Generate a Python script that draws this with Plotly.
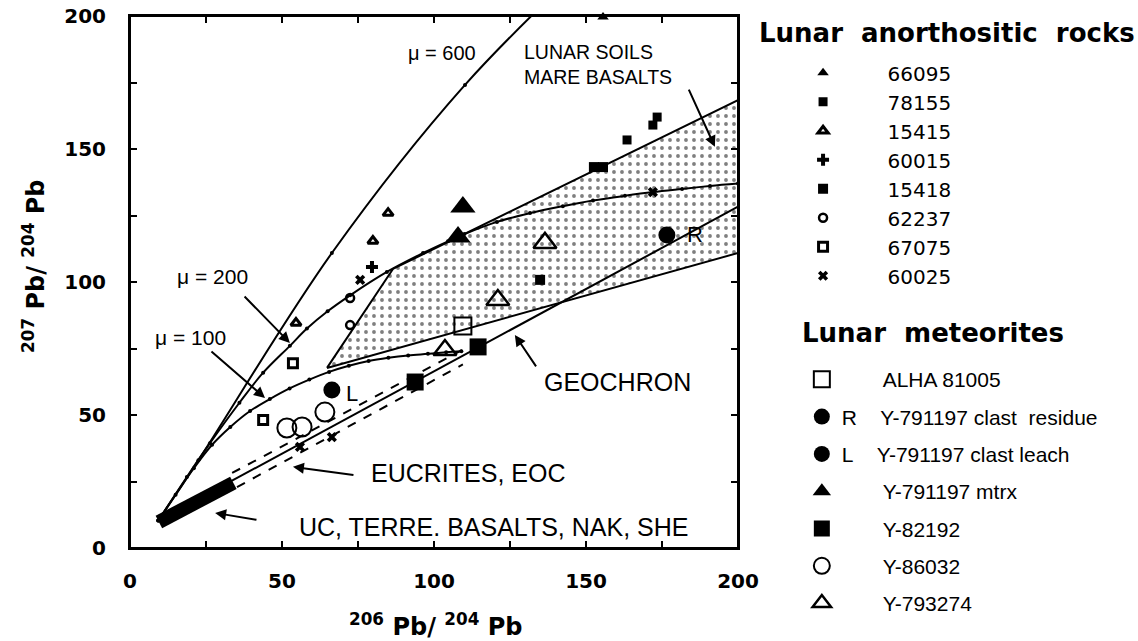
import plotly.graph_objects as go

# ---------------- data ----------------
# growth curves (206Pb/204Pb, 207Pb/204Pb)
mu600_x = [9.3, 22.5, 66.4, 110.2, 152.0]
mu600_y = [10.3, 33.0, 110.9, 174.1, 222.0]

mu200_x = [9.3, 18.7, 26.3, 36.0, 43.8, 52.6, 58.2, 65.0, 72.4, 84.5, 96.4, 104.6, 110.0,
           120.7, 131.6, 142.4, 152.3, 162.8, 172.0, 181.6, 190.8, 200.0]
mu200_y = [10.3, 26.7, 39.4, 54.6, 65.9, 76.0, 82.5, 89.0, 95.0, 103.8, 110.9, 115.3, 118.0,
           122.6, 125.9, 128.5, 130.6, 132.4, 133.8, 135.0, 136.1, 137.0]

mu100_x = [9.3, 15, 21, 27, 33, 39.5, 46, 52.5, 59, 65.5, 72, 78.5, 85, 91.5, 98, 104, 109]
mu100_y = [10.3, 20, 30, 38.8, 45.5, 51.5, 56, 60, 63.3, 66.2, 68.5, 70.3, 71.5, 72.4, 73, 73.6, 74]

geochron_x = [9.3, 200.0]
geochron_y = [10.3, 128.3]

eoc_upper_x = [33.6, 109.2]
eoc_upper_y = [28.2, 74.4]
eoc_lower_x = [35.2, 109.5]
eoc_lower_y = [22.9, 69.0]

terr_x = [9.5, 34.0]
terr_y = [9.8, 24.5]

soils_x = [64.8, 86.5, 200.0, 200.0, 64.8]
soils_y = [67.7, 104.9, 168.4, 110.9, 67.7]

# Lunar anorthositic rocks
r66095_x, r66095_y = [155.6], [199.6]
r78155_x, r78155_y = [173.4, 172.0, 163.5], [162.0, 159.0, 153.4]
r15415_x, r15415_y = [84.9, 79.9, 54.6], [125.9, 115.4, 84.6]
r60015_x, r60015_y = [79.6], [105.6]
r15418_x, r15418_y = [152.6, 155.6, 134.9], [143.2, 143.2, 100.8]
r62237_x, r62237_y = [72.4, 72.4], [94.0, 83.8]
r67075_x, r67075_y = [53.6, 43.8], [69.5, 48.1]
r60025_x, r60025_y = [55.9, 66.4, 75.7, 172.0], [38.0, 41.7, 100.8, 133.8]

# Lunar meteorites
alha_x, alha_y = [109.5], [83.5]
res_x, res_y = [176.6], [117.7]
leach_x, leach_y = [66.4], [59.4]
mtrx_x, mtrx_y = [109.5, 107.9], [128.2, 116.9]
y82192_x, y82192_y = [93.8, 114.5], [62.4, 75.6]
y86032_x, y86032_y = [51.6, 56.6, 64.1], [45.1, 45.5, 51.1]
y793274_x, y793274_y = [136.5, 121.0, 103.6], [114.7, 93.2, 74.4]

tick_vals = [0, 25, 50, 75, 100, 125, 150, 175, 200]
tick_text = ["0", "", "50", "", "100", "", "150", "", "200"]

# ---------------- figure ----------------
FONT = "Liberation Sans, Arial, Helvetica, sans-serif"
WIDE = "DejaVu Sans, Verdana, sans-serif"
NB = "\u00a0"
fig = go.Figure()

def line(x, y, width=2, dash="solid", dots=False, shape="linear"):
    fig.add_trace(go.Scatter(
        x=x, y=y, mode="lines+markers" if dots else "lines",
        line=dict(color="black", width=width, dash=dash, shape=shape, smoothing=1.0),
        marker=dict(size=4, color="black"),
        showlegend=False, hoverinfo="skip"))

# shaded field: lunar soils / mare basalts
fig.add_trace(go.Scatter(
    x=soils_x, y=soils_y, mode="lines", fill="toself",
    fillcolor="white",
    fillpattern=dict(shape=".", fgcolor="black", bgcolor="white", size=8, solidity=0.18),
    line=dict(color="black", width=2), showlegend=False, hoverinfo="skip"))

line(mu600_x, mu600_y, dots=True, shape="spline")
line(mu200_x, mu200_y, dots=True, shape="spline")
line(mu100_x, mu100_y, dots=True, shape="spline")
line(geochron_x, geochron_y)
line(eoc_upper_x, eoc_upper_y, dash="dash")
line(eoc_lower_x, eoc_lower_y, dash="dash")
line(terr_x, terr_y, width=14)

def pts(x, y, name, symbol, size, lw=0, legend="legend", clip=True):
    fig.add_trace(go.Scatter(
        x=x, y=y, mode="markers", name=name, legend=legend,
        legendgroup=name, cliponaxis=clip, hoverinfo="skip",
        marker=dict(symbol=symbol, size=size, color="black",
                    line=dict(color="black", width=lw))))

pad1 = NB * 7
pts(r66095_x, r66095_y, pad1 + "66095", "triangle-up", 10, clip=False)
pts(r78155_x, r78155_y, pad1 + "78155", "square", 9)
pts(r15415_x, r15415_y, pad1 + "15415", "triangle-up-open", 9, lw=3)
pts(r60015_x, r60015_y, pad1 + "60015", "cross", 10)
pts(r15418_x, r15418_y, pad1 + "15418", "square", 10)
pts(r62237_x, r62237_y, pad1 + "62237", "circle-open", 8, lw=2.5)
pts(r67075_x, r67075_y, pad1 + "67075", "square-open", 9, lw=3)
pts(r60025_x, r60025_y, pad1 + "60025", "x", 9)

pad2 = NB * 7
pts(alha_x, alha_y, pad2 + "ALHA 81005", "square-open", 17, lw=2, legend="legend2")
pts(res_x, res_y, "R" + NB * 4 + "Y-791197 clast" + NB * 2 + "residue", "circle", 17, legend="legend2")
pts(leach_x, leach_y, "L" + NB * 4 + "Y-791197 clast" + NB + "leach", "circle", 17, legend="legend2")
pts(mtrx_x, mtrx_y, pad2 + "Y-791197 mtrx", "triangle-up", 22, legend="legend2")
pts(y82192_x, y82192_y, pad2 + "Y-82192", "square", 17, legend="legend2")
pts(y86032_x, y86032_y, pad2 + "Y-86032", "circle-open", 19, lw=2, legend="legend2")
pts(y793274_x, y793274_y, pad2 + "Y-793274", "triangle-up-open", 20, lw=2.5, legend="legend2")

# ---------------- annotations ----------------
def label(x, y, text, size, xanchor="center", align="center", family=FONT, weight="normal",
          ref="data", angle=0):
    kw = dict(xref="paper", yref="paper") if ref == "paper" else {}
    fig.add_annotation(x=x, y=y, text=text, showarrow=False, xanchor=xanchor, yanchor="middle",
                       align=align, textangle=angle,
                       font=dict(family=family, size=size, color="black", weight=weight), **kw)

def arrow(tail, head):
    fig.add_annotation(x=head[0], y=head[1], ax=tail[0], ay=tail[1], axref="x", ayref="y",
                       text="", showarrow=True, arrowhead=2, arrowsize=1.1, arrowwidth=2,
                       arrowcolor="black", standoff=0, startstandoff=0)

label(102.6, 186, "\u03bc = 600", 20)
label(27, 101.9, "\u03bc = 200", 21)
label(20, 79.3, "\u03bc = 100", 21)
label(129, 181.6, "LUNAR SOILS<br>MARE BASALTS", 19.5, xanchor="left", align="left")
label(160.2, 62.4, "GEOCHRON", 25)
label(111.2, 28.2, "EUCRITES, EOC", 25)
label(119.7, 7.9, "UC, TERRE. BASALTS, NAK, SHE", 25)
label(185.9, 117.7, "R", 22)
label(73, 57.9, "L", 22)

arrow((37.2, 95.1), (52.6, 77.1))
arrow((26.3, 74.4), (44.4, 56.4))
arrow((183.6, 172.9), (192.4, 150.8))
arrow((133.9, 67.7), (126.6, 80.1))
arrow((74.0, 27.4), (53.6, 30.5))
arrow((42.1, 10.5), (28.0, 13.2))

# axis titles
label(0.502, -0.144, "<sup>206</sup> Pb/ <sup>204</sup> Pb", 24, family=WIDE, weight="bold", ref="paper")
label(-0.158, 0.53, "<sup>207</sup> Pb/ <sup>204</sup> Pb", 24, family=WIDE, weight="bold", ref="paper",
      angle=-90)
# legend headings
label(1.031, 0.968, "Lunar" + NB * 2 + "anorthositic" + NB * 2 + "rocks", 26, xanchor="left",
      family=WIDE, weight="bold", ref="paper")
label(1.102, 0.404, "Lunar" + NB * 2 + "meteorites", 26, xanchor="left",
      family=WIDE, weight="bold", ref="paper")

# frame around the plotting area
fig.add_shape(type="rect", xref="paper", yref="paper", x0=0, x1=1, y0=0, y1=1,
              line=dict(color="black", width=2), layer="above")

axis_common = dict(
    range=[0, 200], tickmode="array", tickvals=tick_vals, ticktext=tick_text,
    ticks="inside", ticklen=7, tickwidth=2, tickcolor="black",
    showline=True, linecolor="black", linewidth=2, mirror="ticks",
    showgrid=False, zeroline=False, automargin=False, ticklabeloverflow="allow",
    tickfont=dict(family=WIDE, size=20, color="black", weight="bold"),
)

fig.update_layout(
    width=1138, height=641,
    margin=dict(l=130, r=400, t=16, b=93, autoexpand=False),
    paper_bgcolor="white", plot_bgcolor="white",
    xaxis=dict(**axis_common, ticklabelstandoff=14),
    yaxis=dict(**axis_common, ticklabelstandoff=18),
    legend=dict(
        x=1.107, y=0.93, xanchor="left", yanchor="top",
        font=dict(family=WIDE, size=20, color="black"),
        indentation=0, tracegroupgap=0, itemsizing="trace",
        bgcolor="rgba(0,0,0,0)",
    ),
    legend2=dict(
        x=1.105, y=0.355, xanchor="left", yanchor="top",
        font=dict(family=FONT, size=21, color="black"),
        indentation=0, tracegroupgap=7, itemsizing="trace",
        bgcolor="rgba(0,0,0,0)",
    ),
)

fig.write_html("out.html", config={"displayModeBar": False},
               post_script="document.body.style.margin = '0px';")
